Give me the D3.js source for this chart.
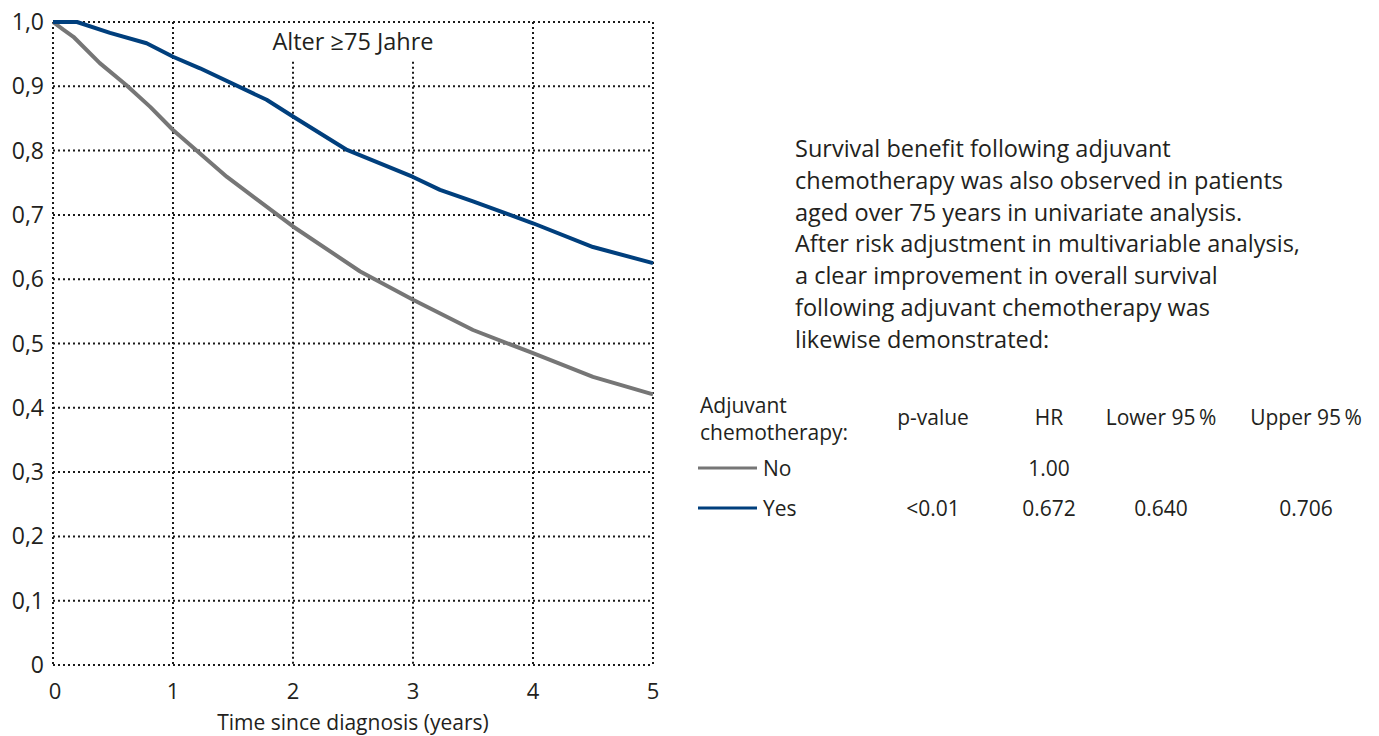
<!DOCTYPE html>
<html>
<head>
<meta charset="utf-8">
<script src="https://cdn.jsdelivr.net/npm/d3@7"></script>
<style>
  body { margin: 0; background: #fff; }
  svg text { font-family: "Open Sans", "Noto Sans", sans-serif; fill: #231f20; }
</style>
</head>
<body>
<svg id="chart" width="1379" height="736"></svg>
<script>
// Kaplan-Meier estimates (years, survival)
const timeNo = [0, 0.086, 0.17, 0.39, 0.61, 0.81, 1.0, 1.45, 2.0, 2.56, 3.0, 3.5, 4.0, 4.5, 5.0];
const survNo = [1.0, 0.988, 0.977, 0.936, 0.902, 0.868, 0.832, 0.759, 0.682, 0.612, 0.568, 0.521, 0.485, 0.448, 0.421];
const timeYes = [0, 0.2, 0.475, 0.78, 1.0, 1.225, 1.78, 2.0, 2.45, 3.0, 3.225, 3.5, 4.0, 4.5, 5.0];
const survYes = [1.0, 1.0, 0.983, 0.967, 0.946, 0.928, 0.879, 0.853, 0.801, 0.759, 0.739, 0.721, 0.687, 0.650, 0.625];

const xTicks = [0, 1, 2, 3, 4, 5];
const yTicks = [0, 0.1, 0.2, 0.3, 0.4, 0.5, 0.6, 0.7, 0.8, 0.9, 1.0];
const yTickLabels = ["0", "0,1", "0,2", "0,3", "0,4", "0,5", "0,6", "0,7", "0,8", "0,9", "1,0"];

const paragraph = [
  "Survival benefit following adjuvant",
  "chemotherapy was also observed in patients",
  "aged over 75 years in univariate analysis.",
  "After risk adjustment in multivariable analysis,",
  "a clear improvement in overall survival",
  "following adjuvant chemotherapy was",
  "likewise demonstrated:"
];

const tableHeaders = ["p-value", "HR", "Lower 95\u2009%", "Upper 95\u2009%"];
const tableGroups = ["No", "Yes"];
const tableRows = [
  ["", "1.00", "", ""],
  ["<0.01", "0.672", "0.640", "0.706"]
];

const colorNo = "#767676";
const colorYes = "#003f7d";
const tableFont = 21;
const bigFont = 23.5;

const svg = d3.select("#chart");

const x = d3.scaleLinear().domain([0, 5]).range([53, 653]);
const y = d3.scaleLinear().domain([0, 1]).range([665, 22]);

// dotted grid
const grid = svg.append("g")
    .attr("stroke", "#1a1a1a")
    .attr("stroke-width", 2)
    .attr("stroke-dasharray", "2,3");

grid.selectAll("line.h")
    .data(yTicks)
    .join("line")
    .attr("class", "h")
    .attr("x1", x(0))
    .attr("x2", x(5))
    .attr("y1", d => y(d))
    .attr("y2", d => y(d));

grid.selectAll("line.v")
    .data(xTicks)
    .join("line")
    .attr("class", "v")
    .attr("x1", d => x(d))
    .attr("x2", d => x(d))
    // lines at 2 and 3 stop under the title
    .attr("y1", d => (d === 2 || d === 3) ? y(0.938) : y(1))
    .attr("y2", y(0));

// axis labels
svg.append("g")
    .selectAll("text")
    .data(yTicks)
    .join("text")
    .attr("x", 44)
    .attr("y", d => y(d))
    .attr("dy", "0.35em")
    .attr("text-anchor", "end")
    .attr("font-size", 23)
    .text((d, i) => yTickLabels[i]);

svg.append("g")
    .selectAll("text")
    .data(xTicks)
    .join("text")
    .attr("x", d => x(d) + (d === 0 ? 2 : 0))
    .attr("y", 699)
    .attr("text-anchor", "middle")
    .attr("font-size", 22)
    .text(d => d);

svg.append("text")
    .attr("x", x(2.5))
    .attr("y", 730)
    .attr("text-anchor", "middle")
    .attr("font-size", tableFont)
    .text("Time since diagnosis (years)");

svg.append("text")
    .attr("x", x(2.5))
    .attr("y", 50)
    .attr("text-anchor", "middle")
    .attr("font-size", bigFont)
    .text("Alter \u226575 Jahre");

// survival curves
const line = d3.line()
    .x(d => x(d[0]))
    .y(d => y(d[1]));

svg.append("path")
    .datum(d3.zip(timeNo, survNo))
    .attr("fill", "none")
    .attr("stroke", colorNo)
    .attr("stroke-width", 4)
    .attr("stroke-linejoin", "round")
    .attr("d", line);

svg.append("path")
    .datum(d3.zip(timeYes, survYes))
    .attr("fill", "none")
    .attr("stroke", colorYes)
    .attr("stroke-width", 4)
    .attr("stroke-linejoin", "round")
    .attr("d", line);

// text block on the right
svg.append("g")
    .selectAll("text")
    .data(paragraph)
    .join("text")
    .attr("x", 795)
    .attr("y", (d, i) => 157 + i * 31.8)
    .attr("font-size", bigFont)
    .text(d => d);

// hazard ratio table
const colX = [933, 1049, 1161, 1306];
const rowY = [476, 516];

svg.append("text")
    .attr("x", 700)
    .attr("y", 413)
    .attr("font-size", tableFont)
    .text("Adjuvant");
svg.append("text")
    .attr("x", 700)
    .attr("y", 440)
    .attr("font-size", tableFont)
    .text("chemotherapy:");

svg.append("g")
    .selectAll("text")
    .data(tableHeaders)
    .join("text")
    .attr("x", (d, i) => colX[i])
    .attr("y", 425)
    .attr("text-anchor", "middle")
    .attr("font-size", tableFont)
    .text(d => d);

const legendRows = svg.append("g")
    .selectAll("g")
    .data(tableGroups)
    .join("g");

legendRows.append("line")
    .attr("x1", 698)
    .attr("x2", 757)
    .attr("y1", (d, i) => rowY[i] - 8)
    .attr("y2", (d, i) => rowY[i] - 8)
    .attr("stroke", (d, i) => i === 0 ? colorNo : colorYes)
    .attr("stroke-width", 3);

legendRows.append("text")
    .attr("x", 763)
    .attr("y", (d, i) => rowY[i])
    .attr("font-size", tableFont)
    .text(d => d);

legendRows.selectAll("text.cell")
    .data((d, i) => tableRows[i].map(v => ({v: v, row: i})))
    .join("text")
    .attr("class", "cell")
    .attr("x", (d, j) => colX[j])
    .attr("y", d => rowY[d.row])
    .attr("text-anchor", "middle")
    .attr("font-size", tableFont)
    .text(d => d.v);
</script>
</body>
</html>
